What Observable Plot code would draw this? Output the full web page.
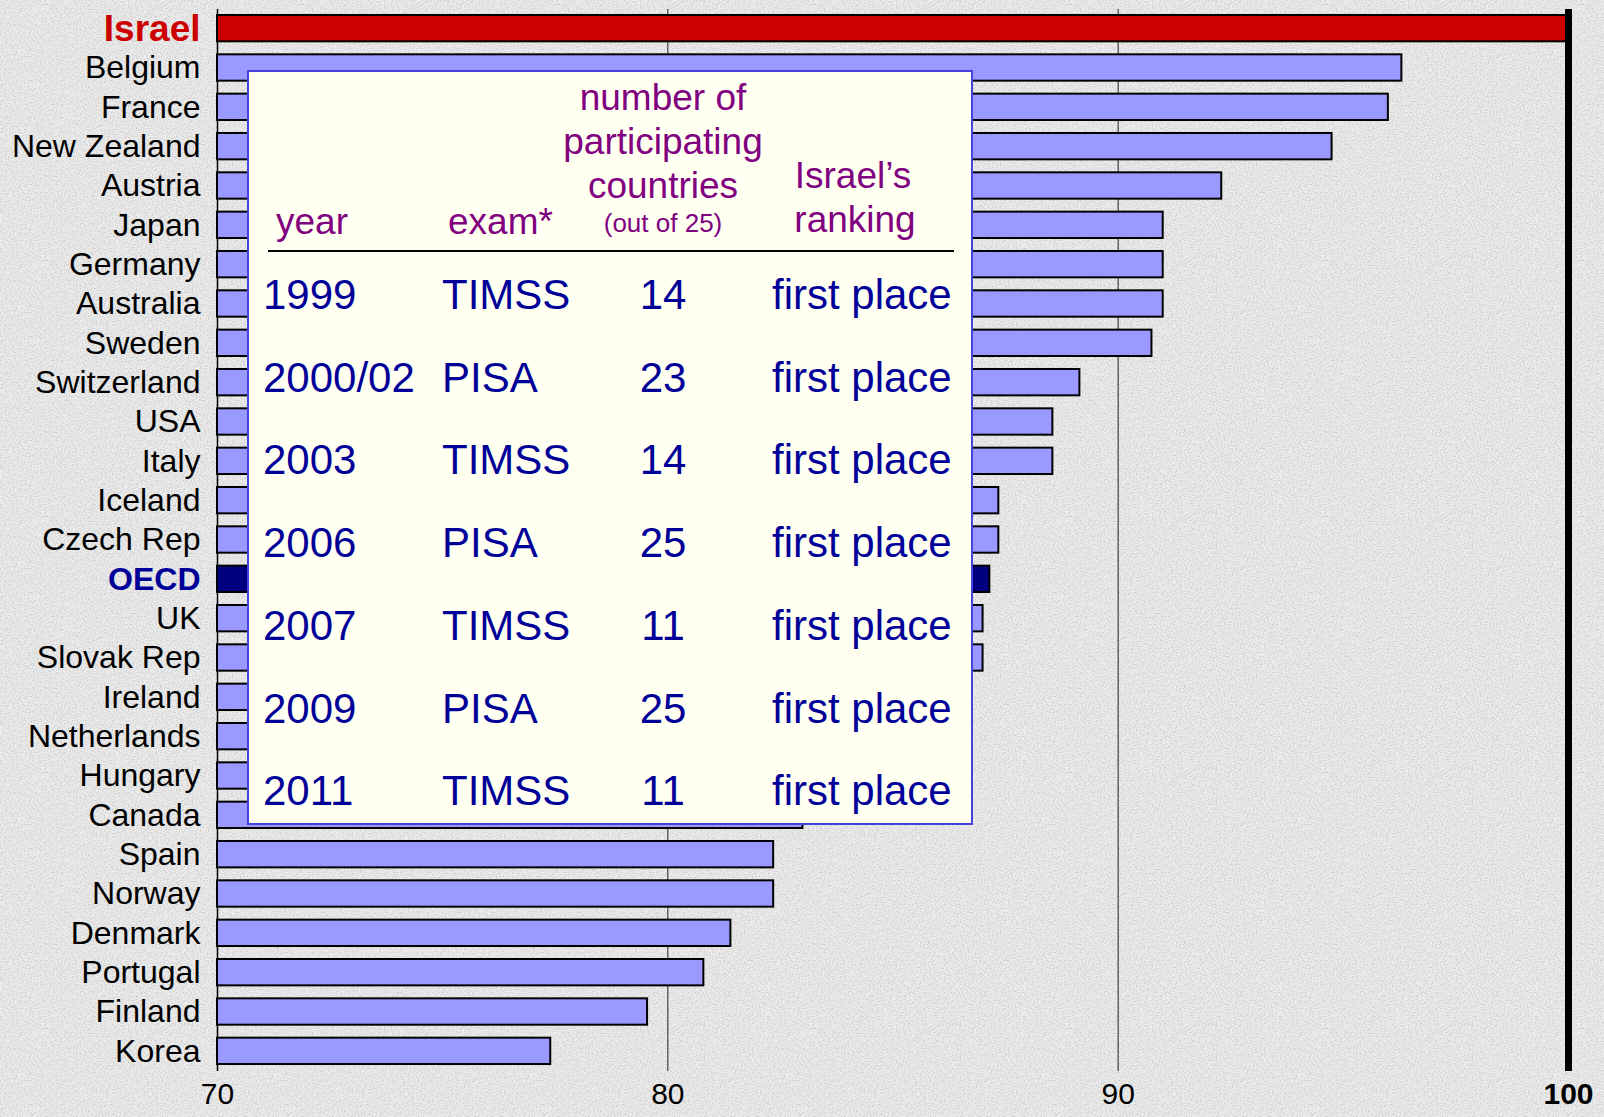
<!DOCTYPE html>
<html>
<head>
<meta charset="utf-8">
<script src="https://cdn.jsdelivr.net/npm/d3@7"></script>
<script src="https://cdn.jsdelivr.net/npm/@observablehq/plot@0.6"></script>
<style>
  html, body { margin: 0; padding: 0; }
  body {
    width: 1604px; height: 1117px; overflow: hidden;
    background-color: #ececec;
    background-image: url("data:image/svg+xml;utf8,<svg xmlns='http://www.w3.org/2000/svg' width='256' height='256'><filter id='n'><feTurbulence type='fractalNoise' baseFrequency='0.75' numOctaves='2' stitchTiles='stitch'/><feColorMatrix type='matrix' values='0 0 0 0 0.55 0 0 0 0 0.55 0 0 0 0 0.55 2.4 0 0 0 -1.05'/></filter><rect width='100%' height='100%' filter='url(%23n)'/></svg>");
    font-family: "Liberation Sans", Arial, sans-serif;
  }
  #wrap { position: relative; width: 1604px; height: 1117px; }
  #box {
    position: absolute; left: 247px; top: 70px; width: 722px; height: 751px;
    background: #fffff2; border: 2px solid #4444dd;
  }
  .t { position: absolute; white-space: nowrap; line-height: 1; transform: translateY(-50%); }
  .h { color: #800080; font-size: 37px; }
  .d { color: #000099; font-size: 42px; }
  .c { transform: translate(-50%, -50%); }
  #rule { position: absolute; left: 268px; top: 250px; width: 686px; height: 2px; background: #000; }
</style>
</head>
<body>
<div id="wrap"></div>
<script>
// ---- chart data ----
const countries = ["Israel","Belgium","France","New Zealand","Austria","Japan","Germany","Australia","Sweden","Switzerland","USA","Italy","Iceland","Czech Rep","OECD","UK","Slovak Rep","Ireland","Netherlands","Hungary","Canada","Spain","Norway","Denmark","Portugal","Finland","Korea"];
const values = [100, 96.3, 96.0, 94.75, 92.3, 91.0, 91.0, 91.0, 90.75, 89.15, 88.55, 88.55, 87.35, 87.35, 87.15, 87.0, 87.0, 86.0, 85.0, 84.0, 83.0, 82.35, 82.35, 81.4, 80.8, 79.55, 77.4];
const xTicks = [70, 80, 90, 100];
const gridTicks = [80, 90];
const BASE = 70;

// ---- table data ----
const tableYears = ["1999","2000/02","2003","2006","2007","2009","2011"];
const tableExams = ["TIMSS","PISA","TIMSS","PISA","TIMSS","PISA","TIMSS"];
const tableCounts = ["14","23","14","25","11","25","11"];
const tableRanks = ["first place","first place","first place","first place","first place","first place","first place"];

const data = countries.map((c, i) => ({country: c, value: values[i]}));
const fillOf = c => c === "Israel" ? "#cc0000" : c === "OECD" ? "#000080" : "#9999ff";

const chart = Plot.plot({
  width: 1604,
  height: 1117,
  marginLeft: 217,
  marginRight: 36,
  marginTop: 2,
  marginBottom: 40,
  style: {background: "transparent", fontFamily: "'Liberation Sans', Arial, sans-serif"},
  x: {domain: [70, 100], axis: null},
  y: {domain: countries, padding: 0.33, round: false, axis: null},
  color: {type: "identity"},
  marks: [
    Plot.ruleX(gridTicks, {x: d => d, stroke: "#222", strokeWidth: 1, insetTop: 7, insetBottom: 6}),
    Plot.ruleX([BASE], {x: d => d, stroke: "#000", strokeWidth: 1.5, insetTop: 7, insetBottom: 6}),
    Plot.barX(data, {y: "country", x1: () => BASE, x2: "value", fill: d => fillOf(d.country), stroke: "#000", strokeWidth: 2}),
    Plot.ruleX([100], {x: d => d, stroke: "#000", strokeWidth: 7, insetTop: 7, insetBottom: 6}),
    Plot.text(data.filter(d => d.country !== "Israel" && d.country !== "OECD"),
      {y: "country", text: "country", frameAnchor: "left", dx: -17, textAnchor: "end", fontSize: 32, fill: "#000"}),
    Plot.text(data.filter(d => d.country === "Israel"),
      {y: "country", text: "country", frameAnchor: "left", dx: -17, textAnchor: "end", fontSize: 37, fontWeight: "bold", fill: "#cc0000"}),
    Plot.text(data.filter(d => d.country === "OECD"),
      {y: "country", text: "country", frameAnchor: "left", dx: -17, textAnchor: "end", fontSize: 32, fontWeight: "bold", fill: "#000099"}),
    Plot.text(xTicks.filter(d => d !== 100), {x: d => d, text: d => String(d), frameAnchor: "bottom", dy: 26, fontSize: 30, fill: "#000"}),
    Plot.text([100], {x: d => d, text: d => String(d), frameAnchor: "bottom", dy: 26, fontSize: 30, fontWeight: "bold", fill: "#000"})
  ]
});

const wrap = document.getElementById("wrap");
wrap.appendChild(chart);

// ---- overlay table ----
const box = document.createElement("div");
box.id = "box";
wrap.appendChild(box);

function addText(cls, txt, x, y, size) {
  const s = document.createElement("div");
  s.className = "t " + cls;
  s.textContent = txt;
  s.style.left = x + "px";
  s.style.top = y + "px";
  if (size) s.style.fontSize = size + "px";
  wrap.appendChild(s);
}
addText("h c", "number of", 663, 97);
addText("h c", "participating", 663, 141);
addText("h c", "countries", 663, 185);
addText("h c", "(out of 25)", 663, 223, 26);
addText("h", "year", 276, 221);
addText("h", "exam*", 448, 221);
addText("h c", "Israel\u2019s", 853, 175);
addText("h c", "ranking", 855, 219);

const rule = document.createElement("div");
rule.id = "rule";
wrap.appendChild(rule);

const rowY0 = 295, rowStep = 82.7;
tableYears.forEach((yr, i) => {
  const y = rowY0 + i * rowStep;
  addText("d", yr, 263, y);
  addText("d", tableExams[i], 442, y);
  addText("d c", tableCounts[i], 663, y);
  addText("d", tableRanks[i], 772, y);
});
</script>
</body>
</html>
